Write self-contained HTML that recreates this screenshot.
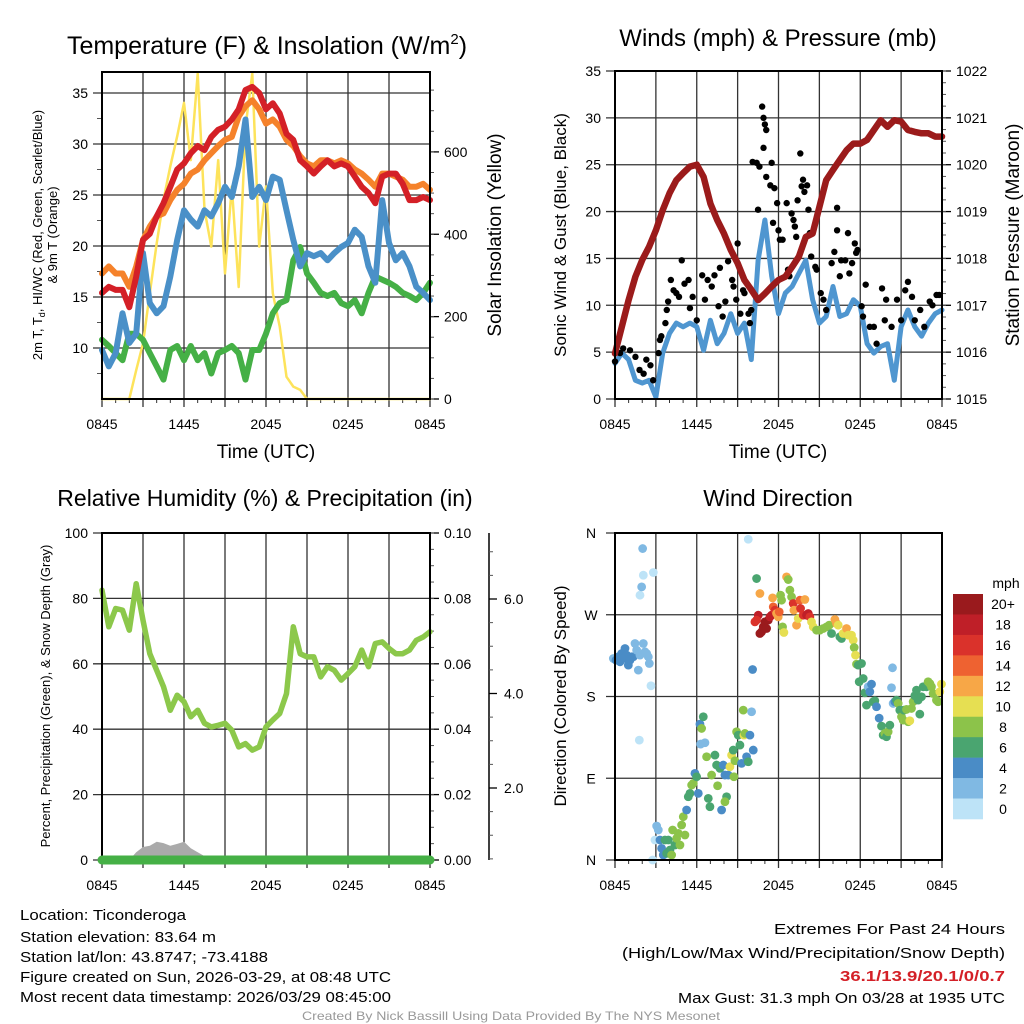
<!DOCTYPE html>
<html><head><meta charset="utf-8"><style>
html,body{margin:0;padding:0;background:#fff}
svg{display:block;font-family:"Liberation Sans",sans-serif}
</style></head><body>
<svg id="chart" width="1024" height="1024" viewBox="0 0 1024 1024" xmlns="http://www.w3.org/2000/svg">
<rect width="1024" height="1024" fill="#fff"/>
<text x="267" y="54" font-size="25" text-anchor="middle">Temperature (F) &amp; Insolation (W/m<tspan font-size="15" dy="-10">2</tspan><tspan dy="10">)</tspan></text>
<text x="778" y="46" font-size="24" text-anchor="middle">Winds (mph) &amp; Pressure (mb)</text>
<text x="265" y="506" font-size="23" text-anchor="middle">Relative Humidity (%) &amp; Precipitation (in)</text>
<text x="778" y="506" font-size="23" text-anchor="middle">Wind Direction</text>
<text x="266" y="458" font-size="19" text-anchor="middle">Time (UTC)</text>
<text x="778" y="458" font-size="19" text-anchor="middle">Time (UTC)</text>
<g font-size="13" text-anchor="middle">
<text transform="translate(42,235) rotate(-90)">2m T, T<tspan font-size="9" dy="3">d</tspan><tspan dy="-3">, HI/WC (Red, Green, Scarlet/Blue)</tspan></text>
<text transform="translate(57,235) rotate(-90)">&amp; 9m T (Orange)</text>
</g>
<text transform="translate(501,235) rotate(-90)" font-size="19" text-anchor="middle">Solar Insolation (Yellow)</text>
<text transform="translate(566,235) rotate(-90)" font-size="17" text-anchor="middle">Sonic Wind &amp; Gust (Blue, Black)</text>
<text transform="translate(1019,235) rotate(-90)" font-size="19" text-anchor="middle">Station Pressure (Maroon)</text>
<text transform="translate(50,696) rotate(-90)" font-size="13" text-anchor="middle">Percent, Precipitation (Green), &amp; Snow Depth (Gray)</text>
<text transform="translate(566,696) rotate(-90)" font-size="17" text-anchor="middle">Direction (Colored By Speed)</text>
<g font-size="15">
<text x="20" y="920" textLength="166" lengthAdjust="spacingAndGlyphs">Location: Ticonderoga</text>
<text x="20" y="942" textLength="196" lengthAdjust="spacingAndGlyphs">Station elevation: 83.64 m</text>
<text x="20" y="962" textLength="248" lengthAdjust="spacingAndGlyphs">Station lat/lon: 43.8747; -73.4188</text>
<text x="20" y="982" textLength="371" lengthAdjust="spacingAndGlyphs">Figure created on Sun, 2026-03-29, at 08:48 UTC</text>
<text x="20" y="1002" textLength="371" lengthAdjust="spacingAndGlyphs">Most recent data timestamp: 2026/03/29 08:45:00</text>
</g>
<g font-size="15">
<text x="774" y="934" textLength="231" lengthAdjust="spacingAndGlyphs">Extremes For Past 24 Hours</text>
<text x="622" y="958" textLength="383" lengthAdjust="spacingAndGlyphs">(High/Low/Max Wind/Precipitation/Snow Depth)</text>
<text x="840" y="981" textLength="165" lengthAdjust="spacingAndGlyphs" fill="#d42027" font-weight="bold">36.1/13.9/20.1/0/0.7</text>
<text x="678" y="1003" textLength="327" lengthAdjust="spacingAndGlyphs">Max Gust: 31.3 mph On 03/28 at 1935 UTC</text>
</g>
<text x="302" y="1020" font-size="12" fill="#999" textLength="418" lengthAdjust="spacingAndGlyphs">Created By Nick Bassill Using Data Provided By The NYS Mesonet</text>
<g id="plots"></g>
</svg>
<script>
const hours = []; for (let i = 0; i <= 48; i++) hours.push(i * 0.5);
const xTickLabels = ["0845","1445","2045","0245","0845"];
const tempTicks = [10,15,20,25,30,35];
const solarTicks = [0,200,400,600];
const windTicks = [0,5,10,15,20,25,30,35];
const presTicks = [1015,1016,1017,1018,1019,1020,1021,1022];
const rhTicks = [0,20,40,60,80,100];
const precipTicks = ["0.00","0.02","0.04","0.06","0.08","0.10"];
const snowTicks = [2.0,4.0,6.0];
const dirLabels = ["N","E","S","W","N"];
const temp2m = [15.4,16,15.7,15.7,14,17,20.6,21.2,22.9,24.2,25.8,27.5,28.1,29.1,29.8,29.4,30.7,31.4,31.7,32.4,33.4,35.3,35.6,35,33.4,34,33,31,30.4,28.4,27.8,27.1,27.8,28.4,27.8,28.1,27.8,26.8,25.8,25.2,24.2,26.8,27.1,27.1,26.1,24.5,24.5,24.8,24.5];
const temp9m = [17.3,18,17.3,17.3,16,18,20.6,21.9,22.9,23.2,24.5,25.5,26.1,27.1,27.5,28.4,29.1,29.8,30.4,30.7,32.7,33.7,34.3,33.4,32,32.4,31.7,30.4,29.8,28.8,28.1,27.8,28.4,28.4,28.1,28.4,28.1,27.5,27.1,26.5,25.8,27.1,27.1,26.8,26.5,25.8,25.8,26.1,25.5];
const heatWind = [9.8,8.2,9.5,13.4,10.5,11.4,19.3,14.4,13.4,14.1,17,20.6,23.5,22.6,21.9,23.5,22.9,24.2,25.8,24.8,27.8,32.4,24.8,25.8,24.5,26.8,26.5,23.5,20.6,18,19.3,19,19.3,18.6,19.3,19.9,20.3,21.6,20.9,18,16.4,24.5,20.3,18.6,19.3,18,16,15.4,14.7];
const dewpoint = [10.8,10.2,9.5,8.8,11.4,11.4,10.8,9.5,8.2,6.9,9.8,10.2,8.8,10.2,8.8,9.5,7.5,9.5,9.8,10.2,9.5,6.9,9.8,9.8,11.4,13.4,14.4,14.7,18.6,19.9,17.3,16.4,15.4,15.1,15.4,14.4,14.1,14.7,13.4,15.4,17,16.7,16.4,16,15.4,15.1,14.7,15.4,16.4];
const solar = [0,0,0,0,0,70,135,257,378,484,565,638,719,580,790,460,370,580,305,516,272,661,790,370,516,257,176,54,30,22,0,0,0,0,0,0,0,0,0,0,0,0,0,0,0,0,0,0,0];
const pressure = [1015.97,1016.54,1017.11,1017.61,1017.97,1018.25,1018.6,1019.03,1019.39,1019.67,1019.82,1019.96,1020,1019.74,1019.17,1018.82,1018.53,1018.18,1017.9,1017.54,1017.33,1017.11,1017.25,1017.4,1017.54,1017.61,1017.82,1018.04,1018.46,1018.53,1019.1,1019.67,1019.89,1020.1,1020.31,1020.45,1020.45,1020.53,1020.74,1020.95,1020.81,1020.95,1020.92,1020.74,1020.7,1020.67,1020.67,1020.6,1020.6];
const sonicWind = [3.8,4.9,4.2,2,1.7,2,0.2,4.9,7,8.1,7.7,8.1,7.7,5.2,8.4,5.9,7,9.1,7,8.1,4.2,14.8,19.1,13.1,9.1,11.3,12,13.4,14.8,10.6,8.1,8.8,12,8.8,9.1,10.6,9.9,5.9,4.9,5.6,5.9,2,7.7,9.5,7.7,6.7,8.1,9.1,9.5];
const gustHours = [0,0.37,0.6,1.1,1.5,1.8,2.1,2.3,2.6,2.8,3.2,3.3,3.4,3.7,3.8,3.9,4.1,4.3,4.5,4.7,4.9,5.1,5.4,5.5,5.7,6,6.4,6.6,6.8,7.1,7.3,7.6,7.7,7.9,8.1,8.3,8.6,8.7,8.9,9,9.2,9.4,9.5,9.8,9.9,10,10.1,10.4,10.5,10.6,10.8,10.9,10.9,11,11.1,11.1,11.4,11.5,11.6,11.7,11.9,12,12.1,12.3,12.6,12.7,12.8,12.96,13.1,13.2,13.3,13.4,13.6,13.7,13.8,13.9,14.1,14.2,14.3,14.4,14.7,14.8,15.1,15.3,15.5,15.9,16.1,16.3,16.3,16.5,16.6,16.9,17.1,17.2,17.4,17.6,17.7,17.8,18.1,18.2,18.4,18.7,19,19.2,19.6,19.8,19.9,20.3,20.7,21,21.3,21.5,21.8,22,22.4,22.7,23.1,23.3,23.6,23.8];
const gustSpeeds = [4,4.9,5.4,5.2,4.5,3.1,2.7,4.2,3.6,2,4.9,6.3,6.7,8.1,9.5,10.4,12.7,11.6,11.3,10.9,14.8,12.3,12.7,9.7,10.9,8.4,13.2,10.6,12.7,12,13.2,9.9,14,8.8,10.4,14.7,12.7,12,10.6,16.6,9.1,11.6,11.3,9.1,8.1,9.5,25.3,25.2,20.2,24.8,31.2,30,26.8,29.3,28.7,23.7,22.8,25.2,18.8,22.5,20.9,18,17,17,20.9,13.8,13.1,19.8,19.1,18.4,17.3,21.2,26.2,22.7,23.4,22.1,22.8,20.2,17.7,15.2,14.1,13.8,11.3,10.6,9.5,14.5,15.7,20.4,18,13.1,14.8,14.8,17.7,13.4,14.5,16.6,15.6,15.9,9.9,8.8,12.2,7.7,7.7,5.9,11.8,8.4,10.6,7.7,10.6,8.4,11.6,12.5,10.9,8.4,9.5,7.7,10.4,10,11.1,11.1];
const humidity = [82.5,71.3,76.9,76.4,70.3,84.5,73.3,63.1,58,53,45.8,50.4,48.4,43.8,45.8,41.8,40.7,41.2,41.8,39.7,34.6,35.6,33.6,34.6,40.7,42.8,44.8,50.9,71.3,63.1,62.1,62.1,56,59.1,58,55,57,59.1,64.2,59.1,66.2,66.7,64.7,63.1,63.1,64.2,67.2,68.2,69.8];
const precip = [0,0,0,0,0,0,0,0,0,0,0,0,0,0,0,0,0,0,0,0,0,0,0,0,0,0,0,0,0,0,0,0,0,0,0,0,0,0,0,0,0,0,0,0,0,0,0,0,0];
const snowDepth = [0,0,0,0,0,0.3,0.5,0.55,0.7,0.65,0.55,0.62,0.7,0.45,0.3,0.15,0,0,0,0,0,0,0,0,0,0,0,0,0,0,0,0,0,0,0,0,0,0,0,0,0,0,0,0,0,0,0,0,0];
const dirPts = [[70,415,3],[78,420,4],[85,410,4],[90,425,4],[95,400,4],[100,415,4],[105,385,4],[110,405,4],[115,435,4],[120,420,4],[125,410,4],[130,410,4],[135,370,2],[140,390,2],[145,450,2],[150,405,2],[160,370,2],[165,395,2],[170,400,2],[175,410,2],[178,430,2],[183,497,1],[150,225,1],[155,200,2],[160,165,1],[158,85,2],[190,157,1],[148,660,1],[188,1020,1],[195,960,1],[200,918,3],[205,930,3],[210,960,4],[215,985,4],[220,1005,4],[225,960,6],[230,1000,6],[235,960,6],[240,990,7],[245,1005,8],[248,930,8],[255,975,7],[260,955,8],[265,940,8],[270,975,8],[275,915,8],[280,890,8],[285,945,8],[290,870,4],[295,830,6],[300,820,7],[305,795,8],[310,790,8],[315,760,4],[320,770,6],[325,820,4],[330,612,4],[335,625,8],[340,590,6],[332,672,2],[345,668,2],[350,710,8],[355,835,6],[360,860,6],[365,765,8],[375,705,6],[380,735,6],[383,797,8],[390,745,6],[395,870,4],[400,735,4],[405,765,4],[410,830,6],[405,845,8],[415,765,4],[420,740,10],[425,705,10],[430,690,6],[432,770,8],[435,722,8],[440,635,8],[445,645,6],[450,675,6],[455,730,4],[460,570,8],[462,645,10],[465,640,8],[470,710,4],[475,725,6],[480,645,4],[485,575,2],[490,690,4],[475,57,1],[488,448,4],[500,175,6],[505,285,18],[495,305,16],[500,300,16],[510,340,20],[515,335,20],[520,320,20],[525,305,20],[530,325,20],[535,300,20],[540,290,18],[545,285,18],[510,220,12],[548,233,12],[550,260,14],[555,270,16],[560,280,12],[565,290,12],[568,275,14],[572,225,8],[575,240,8],[578,320,8],[582,337,10],[590,170,12],[595,178,8],[600,210,8],[605,230,8],[610,250,16],[612,270,12],[620,315,12],[625,295,10],[630,240,14],[632,265,16],[640,285,16],[645,238,12],[650,285,18],[655,280,18],[660,290,16],[665,305,10],[670,320,10],[680,330,8],[690,330,8],[700,325,8],[710,320,8],[718,315,8],[725,340,6],[735,298,12],[740,310,12],[745,315,10],[750,350,6],[755,355,6],[760,340,10],[770,325,12],[775,345,10],[785,345,10],[790,360,10],[793,382,8],[797,405,10],[800,432,8],[805,435,6],[815,430,6],[808,485,6],[820,475,6],[825,518,6],[830,555,6],[835,500,2],[840,515,4],[845,492,4],[850,545,6],[855,542,6],[860,560,4],[868,594,4],[875,618,6],[880,645,6],[885,640,8],[890,650,6],[895,635,8],[900,615,6],[905,503,2],[908,443,2],[910,550,2],[915,545,4],[920,540,6],[925,550,8],[930,570,6],[935,590,8],[940,600,8],[942,570,6],[950,568,8],[955,605,8],[960,602,10],[965,565,8],[970,545,8],[975,527,6],[980,510,6],[985,540,6],[990,582,6],[995,530,6],[1000,500,6],[1010,500,6],[1015,485,8],[1020,490,8],[1025,500,8],[1030,520,8],[1040,540,8],[1045,545,8],[1050,515,10],[1055,492,10]];
const dirHours = dirPts.map(p => (p[0]-75)/40.9);
const dirDegrees = dirPts.map(p => (1020-p[1])/2.727);
const dirSpeeds = dirPts.map(p => p[2]);
const speedBins = ["0","2","4","6","8","10","12","14","16","18","20+"];
const speedColors = ["#bde3f7","#80b9e3","#4a8cc6","#4aa570","#8cc34a","#e6df52","#f7a747","#ee6231","#da322b","#bf1f28","#9a1a1d"];

const NS = "http://www.w3.org/2000/svg";
const root = document.getElementById("plots");
function mk(tag, attrs, parent) {
  const e = document.createElementNS(NS, tag);
  for (const k in attrs) e.setAttribute(k, attrs[k]);
  (parent || root).appendChild(e);
  return e;
}
function lin(d0, d1, r0, r1) { return v => r0 + (v - d0) * (r1 - r0) / (d1 - d0); }

function frame(x0, x1, y0, y1, yTicksPx, name) {
  const g = mk("g", {});
  
  
  const xs = lin(0, 24, x0, x1);
  for (let h = 0; h <= 24; h += 3) {
    mk("line", {x1: xs(h), x2: xs(h), y1: y0, y2: y1 + 8, stroke: "#333", "stroke-width": 1.3}, g);
  }
  for (let h = 1; h < 24; h++) if (h % 3) mk("line", {x1: xs(h), x2: xs(h), y1: y1, y2: y1 + 4, stroke: "#333", "stroke-width": 1}, g);
  yTicksPx.forEach(py => mk("line", {x1: x0 - 9, x2: x1, y1: py, y2: py, stroke: "#333", "stroke-width": 1.3}, g));
  xTickLabels.forEach((t, i) => {
    const tx = mk("text", {x: xs(i * 6), y: y1 + 30, "font-size": 14, "text-anchor": "middle"}, g);
    tx.textContent = t;
  });
  return xs;
}
function border(x0, x1, y0, y1) {
  const r = mk("rect", {x: x0, y: y0, width: x1 - x0, height: y1 - y0, fill: "none", stroke: "#000", "stroke-width": 2});
  
  
}
function leftLabels(x, ys, vals) {
  vals.forEach(v => { const t = mk("text", {x: x, y: ys(v) + 5, "font-size": 14, "text-anchor": "end"}); t.textContent = v; });
}
function rightAxis(x, ys, vals, labels, minorStep, lo, hi) {
  vals.forEach((v, i) => {
    mk("line", {x1: x, x2: x + 9, y1: ys(v), y2: ys(v), stroke: "#000", "stroke-width": 1.3});
    const t = mk("text", {x: x + 14, y: ys(v) + 5, "font-size": 14}); t.textContent = labels[i];
  });
  for (let v = lo; v <= hi + 1e-9; v += minorStep) mk("line", {x1: x, x2: x + 4, y1: ys(v), y2: ys(v), stroke: "#555", "stroke-width": 1});
}
function path(xs, ys, X, Y, color, w, name) {
  const d = X.map((h, i) => (i ? "L" : "M") + xs(h).toFixed(1) + "," + ys(Y[i]).toFixed(1)).join("");
  const p = mk("path", {d: d, fill: "none", stroke: color, "stroke-width": w, "stroke-linejoin": "round", "stroke-linecap": "round"});
  
  
  return p;
}

(function () {
  const x0 = 102, x1 = 430, y0 = 72, y1 = 399;
  const yT = lin(5, 37.06, y1, y0), yS = lin(0, 794, y1, y0);
  const xs = frame(x0, x1, y0, y1, tempTicks.map(yT), "temperature");
  for (let v = 7.5; v < 37; v += 5) mk("line", {x1: x0 - 5, x2: x0, y1: yT(v), y2: yT(v), stroke: "#555"});
  leftLabels(x0 - 14, yT, tempTicks);
  rightAxis(x1, yS, solarTicks, solarTicks.map(String), 50, 0, 750);
  path(xs, yS, hours, solar, "#fde35b", 2.5, "solar-insolation-line");
  path(xs, yT, hours, dewpoint, "#45b046", 6, "dewpoint-line");
  path(xs, yT, hours, heatWind, "#4a90c8", 6, "heat-index-wind-chill-line");
  path(xs, yT, hours, temp9m, "#f5822b", 6, "temperature-9m-line");
  path(xs, yT, hours, temp2m, "#d42027", 6, "temperature-2m-line");
  border(x0, x1, y0, y1);
})();

(function () {
  const x0 = 615, x1 = 942, y0 = 71, y1 = 399;
  const yW = lin(0, 35, y1, y0), yP = lin(1015, 1022, y1, y0);
  const xs = frame(x0, x1, y0, y1, windTicks.map(yW), "winds");
  leftLabels(x0 - 14, yW, windTicks);
  rightAxis(x1, yP, presTicks, presTicks.map(String), 0.25, 1015, 1022);
  path(xs, yW, hours, sonicWind, "#4f96d0", 5, "sonic-wind-line");
  const g = mk("g", {});
  
  
  gustHours.forEach((h, i) => {
    const c = mk("circle", {cx: xs(h), cy: yW(gustSpeeds[i]), r: 3.2, fill: "#000"}, g);
    
    
  });
  path(xs, yP, hours, pressure, "#9b1b1b", 6.5, "station-pressure-line");
  border(x0, x1, y0, y1);
})();

(function () {
  const x0 = 102, x1 = 430, y0 = 533, y1 = 860;
  const yR = lin(0, 100, y1, y0), ySn = lin(0, 2, 882.5, 788);
  const xs = frame(x0, x1, y0, y1, rhTicks.map(yR), "humidity");
  leftLabels(x0 - 14, yR, rhTicks);
  rightAxis(x1, yR, rhTicks, precipTicks, 5, 0, 100);
  mk("line", {x1: 489, x2: 489, y1: 533, y2: 860, stroke: "#000", "stroke-width": 1.5});
  snowTicks.forEach(v => {
    mk("line", {x1: 489, x2: 497, y1: ySn(v), y2: ySn(v), stroke: "#000", "stroke-width": 1.3});
    const t = mk("text", {x: 504, y: ySn(v) + 5, "font-size": 14}); t.textContent = v.toFixed(1);
  });
  for (let v = 0.5; v < 7.4; v += 0.5) if (v % 2) mk("line", {x1: 489, x2: 493, y1: ySn(v), y2: ySn(v), stroke: "#555"});
  const sd = "M" + xs(0) + "," + y1 + hours.map((h, i) => "L" + xs(h).toFixed(1) + "," + (y1 - snowDepth[i] * 26).toFixed(1)).join("") + "L" + xs(24) + "," + y1 + "Z";
  const a = mk("path", {d: sd, fill: "#aaa"});
  
  
  path(xs, yR, hours, humidity, "#8cc84b", 5.5, "relative-humidity-line");
  border(x0, x1, y0, y1);
  path(xs, v => yR(v * 1000), hours, precip, "#45b046", 9, "precipitation-line");
})();

(function () {
  const x0 = 615, x1 = 942, y0 = 533, y1 = 860;
  const yD = lin(0, 360, y1, y0);
  const xs = frame(x0, x1, y0, y1, [0, 90, 180, 270, 360].map(yD), "direction");
  dirLabels.forEach((l, i) => { const t = mk("text", {x: 591, y: yD(i * 90) + 5, "font-size": 14, "text-anchor": "middle"}); t.textContent = l; });
  const g = mk("g", {});
  
  
  dirHours.forEach((h, i) => {
    const b = Math.min(10, Math.floor(dirSpeeds[i] / 2));
    const c = mk("circle", {cx: xs(h), cy: yD(dirDegrees[i]), r: 4.4, fill: speedColors[b]}, g);
    
    
  });
  border(x0, x1, y0, y1);
  const cb = mk("g", {});
  
  
  const bh = (819 - 594) / 11;
  for (let i = 0; i < 11; i++) {
    const idx = 10 - i;
    mk("rect", {x: 953, y: 594 + i * bh, width: 30, height: bh + 0.3, fill: speedColors[idx]}, cb);
    const t = mk("text", {x: 1003, y: 594 + i * bh + bh / 2 + 5, "font-size": 14, "text-anchor": "middle"}, cb);
    t.textContent = speedBins[idx];
  }
  const mt = mk("text", {x: 1006, y: 588, "font-size": 14, "text-anchor": "middle"}, cb);
  mt.textContent = "mph";
})();
</script>
</body></html>
